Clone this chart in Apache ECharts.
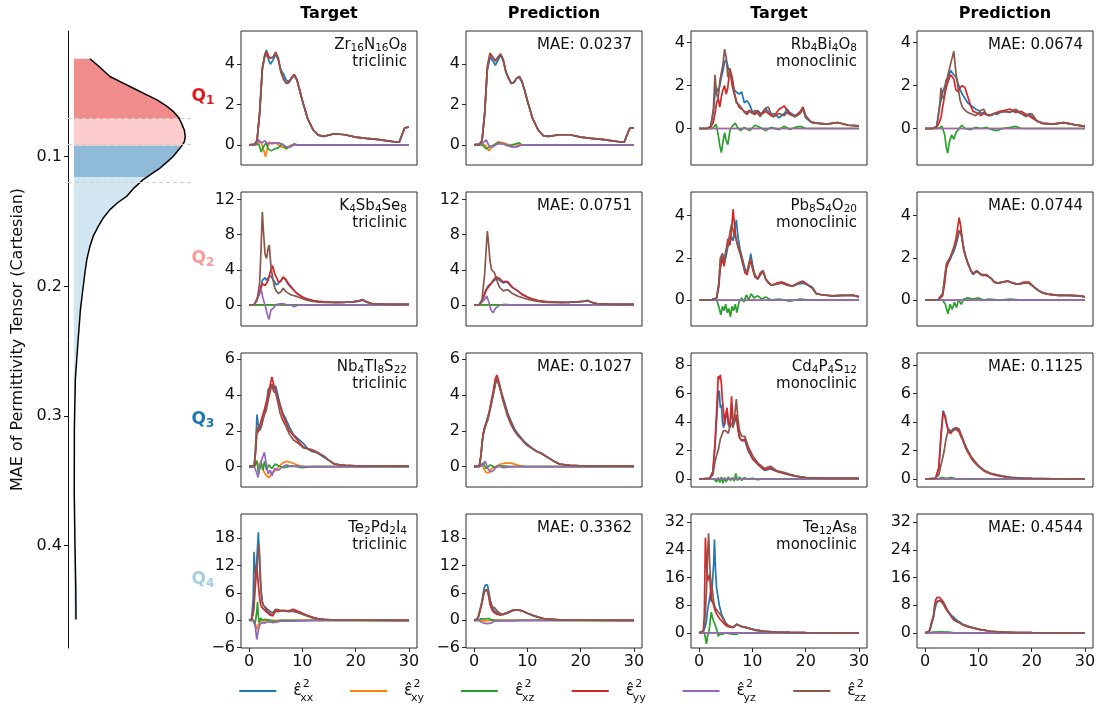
<!DOCTYPE html>
<html>
<head>
    <title>Permittivity spectra</title>
    <meta charset="utf-8"/>
    <script type="text/javascript" src="https://cdn.jsdelivr.net/npm/echarts@6.0.0/dist/echarts.min.js"></script>
    <style>
        html, body { margin: 0; padding: 0; background: #fff; }
        #chart { width: 1099px; height: 706px; }
    </style>
</head>
<body>
<div id="chart"></div>
<script type="text/javascript">
    // ---- tick labels ----
    const xTicks = [0, 10, 20, 30];
    const ticks024 = [0, 2, 4];
    const ticks0to12 = [0, 4, 8, 12];
    const ticks0246 = [0, 2, 4, 6];
    const ticks02468 = [0, 2, 4, 6, 8];
    const ticksN6to18 = [-6, 0, 6, 12, 18];
    const ticks0to32 = [0, 8, 16, 24, 32];
    const maeTicks = [0.1, 0.2, 0.3, 0.4];

    // ---- MAE distribution (density, MAE) ----
    const densMae = [0.0244, 0.031, 0.0381, 0.0425, 0.047, 0.0515, 0.056, 0.0605, 0.065, 0.0695, 0.074, 0.0795, 0.0843, 0.0885, 0.092, 0.096, 0.0998, 0.104, 0.1087, 0.113, 0.1177, 0.124, 0.1306, 0.1355, 0.1408, 0.147, 0.1537, 0.161, 0.169, 0.179, 0.1897, 0.203, 0.218, 0.246, 0.272, 0.31, 0.36, 0.40, 0.433, 0.457];
    const densVal = [13.6, 22, 30.5, 40, 50, 60, 70, 78, 84, 88.5, 91, 93.5, 94.3, 93.5, 91, 87.5, 84, 79, 73, 66, 58.7, 51, 44.6, 37, 30.5, 25, 20.6, 16.5, 13.6, 11, 9.3, 7.5, 5.5, 3.2, 1.2, 0.4, 0.3, 0.9, 1.6, 1.8];
    const qCuts = [0.0709, 0.0915, 0.1157];

    const zeroLine = [[0, 0], [30, 0]];

    // ---- Zr16N16O8 ----
    const gZr = [0, 1, 1.5, 2, 2.5, 3, 3.3, 3.7, 4, 4.5, 5, 5.5, 6, 6.5, 7, 7.5, 8, 8.5, 9, 9.5, 10, 11, 12, 13, 14, 16, 18, 20, 22, 24, 26, 27.5, 28.2, 28.7, 29.2, 30];
    const zrT_xx = [0, 0.02, 0.2, 1.6, 3.8, 4.5, 4.7, 4.2, 4.0, 4.2, 4.5, 4.2, 3.7, 3.5, 3.2, 3.15, 3.35, 3.45, 3.2, 2.7, 2.2, 1.3, 0.75, 0.48, 0.42, 0.55, 0.5, 0.38, 0.32, 0.27, 0.2, 0.14, 0.15, 0.5, 0.85, 0.88];
    const zrT_yy = [0, 0.02, 0.2, 1.6, 3.8, 4.5, 4.6, 4.4, 4.3, 4.35, 4.6, 4.3, 3.6, 3.25, 3.05, 3.1, 3.35, 3.5, 3.25, 2.75, 2.2, 1.3, 0.75, 0.48, 0.42, 0.55, 0.5, 0.38, 0.32, 0.27, 0.2, 0.14, 0.15, 0.5, 0.85, 0.88];
    const zrT_zz = [0, 0.02, 0.2, 1.55, 3.75, 4.5, 4.55, 4.3, 4.25, 4.35, 4.55, 4.25, 3.6, 3.25, 3.05, 3.1, 3.3, 3.45, 3.2, 2.7, 2.2, 1.3, 0.75, 0.48, 0.42, 0.55, 0.5, 0.38, 0.32, 0.27, 0.2, 0.14, 0.15, 0.5, 0.85, 0.88];
    const zrT_xy = [[0, 0], [1.2, 0], [1.8, 0.15], [2.3, 0.1], [2.8, -0.3], [3.1, -0.6], [3.4, -0.2], [3.8, 0.15], [4.3, 0.05], [5, 0.1], [6, -0.1], [7, -0.15], [8, 0], [30, 0]];
    const zrT_xz = [[0, 0], [1.2, 0], [1.8, 0.05], [2.3, -0.35], [2.7, -0.1], [3.2, 0.1], [3.6, -0.2], [4.2, -0.3], [4.8, -0.2], [5.5, -0.15], [6.2, 0.05], [7, -0.2], [7.6, -0.1], [8.5, 0.05], [9, 0], [30, 0]];
    const zrT_yz = [[0, 0], [1.2, 0], [1.8, 0.25], [2.4, 0.1], [3, 0.2], [3.5, 0.05], [4.5, 0.1], [5.5, 0.1], [6.5, 0], [7, -0.1], [7.8, -0.1], [8.5, 0], [30, 0]];
    const zrP_xx = [0, 0.02, 0.2, 1.5, 3.7, 4.35, 4.4, 4.1, 3.95, 4.2, 4.45, 4.15, 3.6, 3.3, 3.05, 3.1, 3.3, 3.35, 3.1, 2.7, 2.2, 1.3, 0.75, 0.45, 0.42, 0.5, 0.5, 0.38, 0.32, 0.27, 0.2, 0.14, 0.15, 0.5, 0.82, 0.85];
    const zrP_yy = [0, 0.02, 0.2, 1.6, 3.9, 4.55, 4.6, 4.3, 4.2, 4.35, 4.5, 4.2, 3.6, 3.3, 3.05, 3.1, 3.3, 3.4, 3.15, 2.7, 2.2, 1.3, 0.75, 0.45, 0.42, 0.5, 0.5, 0.38, 0.32, 0.27, 0.2, 0.14, 0.15, 0.5, 0.82, 0.85];
    const zrP_zz = [0, 0.02, 0.2, 1.55, 3.8, 4.5, 4.55, 4.25, 4.15, 4.35, 4.5, 4.2, 3.6, 3.3, 3.05, 3.1, 3.3, 3.4, 3.15, 2.7, 2.2, 1.3, 0.75, 0.45, 0.42, 0.5, 0.5, 0.38, 0.32, 0.27, 0.2, 0.14, 0.15, 0.5, 0.82, 0.85];
    const zrP_xy = [[0, 0], [1.5, 0.05], [2.2, -0.05], [2.8, -0.3], [3.5, -0.05], [4.5, 0.15], [5.5, 0.1], [6.5, 0], [7.5, -0.1], [8.5, 0], [30, 0]];
    const zrP_xz = [[0, 0], [1.5, 0], [2.3, -0.2], [2.9, -0.1], [3.5, -0.05], [4.5, 0.1], [5.5, 0.05], [6.5, -0.05], [8.5, 0.1], [9, 0], [30, 0]];
    const zrP_yz = [[0, 0], [1.5, 0.05], [2.3, 0.25], [2.8, -0.05], [3.5, -0.1], [4.5, 0.05], [5.5, 0.05], [7, -0.1], [8, -0.1], [9, 0], [30, 0]];

    // ---- Rb4Bi4O8 ----
    const gRb = [0, 1.5, 2.2, 2.7, 3.0, 3.3, 3.6, 3.9, 4.2, 4.5, 4.8, 5.1, 5.4, 5.8, 6.2, 6.6, 7.0, 7.5, 8, 8.5, 9, 9.5, 10, 10.5, 11, 11.5, 12, 12.5, 13, 13.5, 14, 15, 16, 16.5, 17, 18, 19, 19.5, 20, 21, 22, 24, 26, 28, 30];
    const rbT_xx = [0, 0, 0.1, 0.8, 1.6, 1.9, 1.7, 2.0, 2.4, 2.7, 3.1, 3.2, 2.9, 2.6, 2.3, 1.8, 1.7, 1.6, 1.7, 1.2, 1.3, 1.1, 0.8, 0.7, 0.85, 0.7, 0.75, 0.9, 0.8, 0.65, 0.7, 0.5, 0.7, 0.9, 0.75, 0.6, 0.75, 0.9, 0.5, 0.3, 0.25, 0.2, 0.28, 0.15, 0.12];
    const rbT_yy = [0, 0, 0.05, 0.3, 0.7, 1.2, 1.4, 1.0, 1.5, 1.8, 2.0, 1.6, 1.9, 2.8, 2.4, 1.7, 1.3, 1.0, 0.9, 0.8, 0.75, 0.85, 0.7, 0.65, 0.8, 0.65, 0.7, 0.8, 0.7, 0.6, 0.55, 0.9, 1.05, 0.85, 0.7, 0.55, 0.8, 1.0, 0.6, 0.3, 0.25, 0.2, 0.28, 0.15, 0.12];
    const rbT_zz = [0, 0, 0.1, 0.9, 2.5, 1.6, 1.4, 2.2, 2.6, 3.0, 3.7, 3.3, 2.4, 2.7, 2.0, 1.6, 1.2, 1.1, 0.95, 0.75, 0.65, 0.8, 0.7, 0.85, 0.7, 0.55, 0.8, 0.95, 1.0, 0.7, 0.55, 0.7, 0.6, 0.75, 0.65, 0.55, 0.7, 0.95, 0.55, 0.3, 0.25, 0.2, 0.28, 0.15, 0.12];
    const rbT_xz = [[0, 0], [2.5, 0], [3.2, 0.2], [3.6, -0.3], [3.9, -0.8], [4.2, -1.12], [4.5, -0.6], [4.8, -0.2], [5.1, -0.55], [5.4, -0.75], [5.8, -0.1], [6.2, 0.1], [6.8, 0.25], [7.2, 0.05], [7.8, -0.1], [8.5, 0.05], [9.5, -0.1], [10.5, 0.15], [11.5, 0.05], [12.5, -0.1], [13.5, 0.05], [15, -0.05], [16, 0.1], [17, -0.05], [18, 0.05], [19, 0.1], [20, 0], [30, 0]];
    const rbP_xx = [0, 0, 0.1, 1.0, 1.3, 1.7, 1.9, 2.1, 2.3, 2.5, 2.7, 2.65, 2.5, 2.4, 2.1, 1.8, 1.6, 1.4, 1.2, 1.1, 1.0, 0.9, 0.85, 0.7, 0.75, 0.65, 0.65, 0.6, 0.7, 0.65, 0.75, 0.8, 0.75, 0.85, 0.8, 0.7, 0.6, 0.7, 0.55, 0.35, 0.25, 0.2, 0.27, 0.18, 0.1];
    const rbP_yy = [0, 0, 0.05, 0.3, 0.5, 1.0, 1.4, 1.8, 2.1, 2.3, 2.5, 2.45, 2.3, 1.8, 1.7, 1.9, 2.0, 1.9, 1.5, 1.1, 0.8, 0.75, 0.7, 0.6, 0.7, 0.65, 0.6, 0.65, 0.7, 0.75, 0.8, 0.85, 0.9, 0.8, 0.75, 0.8, 0.65, 0.6, 0.5, 0.35, 0.25, 0.2, 0.27, 0.18, 0.1];
    const rbP_zz = [0, 0, 0.1, 0.9, 1.9, 1.4, 1.5, 2.2, 2.4, 2.7, 3.0, 3.3, 3.6, 2.6, 1.9, 1.3, 1.0, 0.85, 0.75, 0.7, 0.65, 0.6, 0.7, 0.85, 0.9, 0.65, 0.6, 0.65, 0.7, 0.7, 0.75, 0.8, 0.75, 0.85, 0.9, 0.7, 0.55, 0.65, 0.7, 0.35, 0.22, 0.2, 0.27, 0.18, 0.1];
    const rbP_xz = [[0, 0], [2.5, 0], [3.2, 0.1], [3.7, -0.3], [4.0, -0.9], [4.25, -1.15], [4.6, -0.6], [5.0, -0.3], [5.4, -0.5], [5.8, -0.2], [6.4, 0], [6.9, 0.15], [7.5, 0], [8.5, -0.05], [9.5, 0.05], [10.5, 0], [11.5, 0.05], [12.5, -0.05], [13.5, -0.1], [14.5, 0], [16, 0.05], [17, 0.1], [18, 0], [30, 0]];

    // ---- K4Sb4Se8 ----
    const gK = [0, 1, 1.5, 2, 2.3, 2.5, 2.7, 3.0, 3.3, 3.6, 3.8, 4.1, 4.4, 4.8, 5.1, 5.5, 6, 6.4, 6.8, 7.2, 7.7, 8.2, 9, 10, 11, 12, 13, 14, 16, 18, 19.5, 20.5, 21.3, 22, 23, 25, 27, 30];
    const kT_xx = [0, 0.05, 0.6, 1.5, 2.2, 2.8, 3.0, 3.1, 2.8, 3.1, 3.2, 3.3, 3.0, 2.6, 2.3, 2.4, 2.8, 3.1, 2.9, 2.5, 2.1, 1.8, 1.3, 0.9, 0.65, 0.5, 0.4, 0.35, 0.3, 0.3, 0.35, 0.4, 0.55, 0.35, 0.15, 0.08, 0.05, 0.05];
    const kT_yy = [0, 0.05, 0.7, 1.4, 2.0, 2.4, 2.3, 2.2, 2.0, 2.8, 3.3, 4.0, 4.5, 3.6, 3.2, 2.6, 2.7, 3.2, 3.0, 2.6, 2.2, 1.8, 1.3, 0.9, 0.65, 0.5, 0.4, 0.35, 0.3, 0.3, 0.35, 0.45, 0.6, 0.35, 0.15, 0.08, 0.05, 0.05];
    const kT_zz = [0, 0.05, 0.5, 2.5, 7.0, 10.6, 8.5, 5.8, 5.3, 6.5, 6.8, 4.5, 3.2, 2.0, 1.6, 1.3, 1.5, 1.9, 1.6, 1.4, 1.2, 1.1, 0.95, 0.7, 0.5, 0.4, 0.3, 0.28, 0.25, 0.3, 0.35, 0.45, 0.6, 0.35, 0.15, 0.08, 0.05, 0.05];
    const kT_yz = [[0, 0], [1, 0], [1.8, 1.0], [2.3, 1.7], [2.6, 0.8], [3.0, 0], [3.4, -1.0], [3.75, -1.65], [4.1, -0.6], [4.5, -0.4], [5.0, 0], [5.5, 0.1], [6.3, 0.15], [7, 0.05], [7.8, 0], [8.5, -0.2], [9.2, 0], [30, 0]];
    const kP_xx = [0, 0.05, 0.5, 1.3, 1.8, 2.0, 2.2, 2.3, 2.5, 2.7, 2.8, 3.0, 3.0, 2.8, 2.6, 2.5, 2.6, 2.5, 2.2, 2.0, 1.8, 1.6, 1.2, 0.9, 0.65, 0.5, 0.4, 0.35, 0.3, 0.3, 0.35, 0.42, 0.5, 0.3, 0.15, 0.08, 0.05, 0.05];
    const kP_yy = [0, 0.05, 0.5, 1.2, 1.7, 1.9, 2.0, 2.2, 2.5, 2.8, 3.0, 3.2, 3.3, 3.0, 2.8, 2.6, 2.7, 2.6, 2.3, 2.0, 1.8, 1.6, 1.2, 0.9, 0.65, 0.5, 0.4, 0.35, 0.3, 0.3, 0.35, 0.42, 0.5, 0.3, 0.15, 0.08, 0.05, 0.05];
    const kP_zz = [0, 0.05, 0.6, 3.5, 6.5, 8.4, 7.2, 5.0, 4.0, 3.8, 3.7, 3.2, 2.6, 2.0, 1.8, 1.6, 1.7, 1.7, 1.5, 1.3, 1.15, 1.0, 0.85, 0.65, 0.5, 0.4, 0.3, 0.28, 0.25, 0.3, 0.35, 0.4, 0.5, 0.3, 0.15, 0.08, 0.05, 0.05];
    const kP_yz = [[0, 0], [1, 0], [1.8, 0.5], [2.4, 1.0], [2.8, 0.3], [3.2, -0.6], [3.6, -0.9], [4.0, -0.4], [4.6, -0.1], [5.5, 0.05], [7, 0], [30, 0]];

    // ---- Pb8S4O20 ----
    const gPb = [0, 2.5, 3.3, 3.7, 4.0, 4.4, 4.7, 5.0, 5.4, 5.8, 6.1, 6.4, 6.7, 7.0, 7.3, 7.7, 8.1, 8.6, 9.0, 9.4, 9.7, 10.1, 10.5, 11, 11.5, 12, 12.5, 13, 13.6, 14.5, 15.5, 16.5, 17.5, 18.5, 19.5, 20.5, 21.3, 22, 23, 25, 27, 29, 30];
    const pbT_xx = [0, 0.02, 0.1, 0.8, 1.8, 2.2, 1.7, 2.0, 2.5, 2.8, 3.0, 2.8, 3.3, 3.8, 3.0, 2.4, 2.0, 1.5, 1.3, 1.7, 2.2, 1.6, 1.1, 1.0, 1.2, 1.4, 1.0, 0.85, 0.7, 0.75, 0.85, 0.75, 0.65, 0.75, 0.8, 0.7, 0.6, 0.3, 0.25, 0.2, 0.22, 0.22, 0.15];
    const pbT_yy = [0, 0.02, 0.1, 0.6, 1.5, 2.0, 1.6, 2.2, 2.9, 2.6, 3.3, 4.3, 3.4, 2.8, 2.6, 2.3, 1.9, 1.3, 1.2, 1.6, 1.9, 1.4, 1.1, 1.0, 1.2, 1.35, 1.0, 0.85, 0.7, 0.8, 0.85, 0.75, 0.65, 0.8, 0.9, 0.7, 0.55, 0.3, 0.25, 0.2, 0.22, 0.22, 0.15];
    const pbT_zz = [0, 0.02, 0.1, 0.7, 2.0, 2.2, 1.8, 2.3, 2.6, 3.2, 3.6, 3.3, 3.0, 2.9, 2.5, 2.2, 1.8, 1.4, 1.3, 1.8, 2.0, 1.5, 1.2, 1.0, 1.3, 1.4, 1.0, 0.8, 0.7, 0.75, 0.8, 0.7, 0.65, 0.8, 0.85, 0.7, 0.55, 0.3, 0.25, 0.2, 0.22, 0.22, 0.15];
    const pbT_xz = [[0, 0], [3.3, 0], [3.7, -0.3], [4.1, -0.7], [4.4, -0.3], [4.7, -0.5], [5.0, -0.2], [5.3, -0.6], [5.6, -0.4], [5.9, -0.8], [6.2, -0.3], [6.5, -0.5], [6.8, -0.2], [7.1, -0.6], [7.5, -0.1], [8.0, 0.1], [8.4, -0.1], [8.9, 0.25], [9.3, 0], [9.8, 0.3], [10.3, 0.1], [11, 0.2], [11.8, 0.05], [12.5, 0.15], [13.5, 0], [15, 0.05], [17, -0.05], [19, 0.05], [20.5, 0], [30, 0]];
    const pbP_xx = [0, 0.02, 0.3, 1.0, 1.6, 1.8, 1.9, 2.1, 2.3, 2.6, 2.9, 3.2, 3.3, 2.9, 2.4, 2.0, 1.7, 1.4, 1.2, 1.3, 1.4, 1.3, 1.2, 1.2, 1.2, 1.1, 1.0, 0.85, 0.8, 0.85, 0.9, 0.8, 0.75, 0.8, 0.8, 0.6, 0.45, 0.35, 0.28, 0.22, 0.22, 0.2, 0.15];
    const pbP_yy = [0, 0.02, 0.2, 0.8, 1.5, 1.8, 2.0, 2.2, 2.5, 2.9, 3.4, 3.9, 3.5, 2.8, 2.3, 2.0, 1.7, 1.4, 1.25, 1.35, 1.4, 1.3, 1.2, 1.15, 1.2, 1.1, 1.0, 0.85, 0.8, 0.85, 0.9, 0.8, 0.75, 0.85, 0.85, 0.6, 0.45, 0.35, 0.28, 0.22, 0.22, 0.2, 0.15];
    const pbP_zz = [0, 0.02, 0.3, 1.1, 1.7, 1.9, 2.0, 2.2, 2.4, 2.7, 3.0, 3.3, 3.2, 2.8, 2.4, 2.0, 1.7, 1.4, 1.25, 1.3, 1.4, 1.3, 1.2, 1.2, 1.15, 1.1, 1.0, 0.85, 0.8, 0.85, 0.9, 0.8, 0.75, 0.8, 0.8, 0.6, 0.45, 0.35, 0.28, 0.22, 0.22, 0.2, 0.15];
    const pbP_xz = [[0, 0], [3.3, 0], [3.8, -0.2], [4.3, -0.65], [4.7, -0.2], [5.1, -0.45], [5.5, -0.1], [5.9, -0.35], [6.3, 0], [6.8, -0.2], [7.3, 0.05], [8, 0.1], [9, 0.05], [10, 0.1], [11, 0], [12, 0.05], [14, 0], [16, 0.05], [18, 0], [30, 0]];

    // ---- Nb4Tl8S22 ----
    const gNb = [0, 1, 1.3, 1.5, 1.7, 2.0, 2.3, 2.6, 2.9, 3.2, 3.6, 4.0, 4.3, 4.6, 5.0, 5.4, 5.8, 6.3, 7.0, 7.6, 8.3, 9.0, 9.6, 10.2, 11, 11.8, 12.6, 13.4, 14.2, 15, 16, 17, 18, 20, 24, 30];
    const nbT_xx = [0, 0.05, 1.5, 2.9, 2.4, 2.0, 2.3, 2.6, 3.0, 3.3, 4.3, 4.4, 4.6, 4.3, 4.5, 4.0, 3.5, 3.0, 2.6, 2.2, 1.8, 1.6, 1.45, 1.3, 1.0, 0.85, 0.8, 0.65, 0.5, 0.35, 0.15, 0.1, 0.08, 0.05, 0.04, 0.03];
    const nbT_yy = [0, 0.05, 1.0, 2.1, 1.9, 1.8, 2.6, 2.5, 3.2, 3.3, 4.0, 4.6, 5.0, 4.6, 4.2, 3.8, 3.4, 2.9, 2.4, 2.0, 1.75, 1.5, 1.3, 1.1, 1.0, 0.9, 0.8, 0.7, 0.55, 0.35, 0.15, 0.1, 0.08, 0.05, 0.04, 0.03];
    const nbT_zz = [0, 0.05, 1.2, 2.2, 2.0, 1.9, 2.2, 2.6, 2.9, 3.1, 3.7, 4.2, 4.6, 4.2, 4.1, 3.6, 3.0, 2.6, 2.2, 1.8, 1.5, 1.35, 1.2, 1.05, 1.0, 0.95, 0.85, 0.7, 0.55, 0.35, 0.15, 0.1, 0.08, 0.05, 0.04, 0.03];
    const nbT_xy = [[0, 0], [1, 0], [1.5, 0.35], [1.9, -0.2], [2.3, 0.2], [2.8, -0.3], [3.3, -0.5], [3.8, -0.6], [4.3, -0.35], [5, -0.2], [5.6, 0], [6.3, 0.2], [7, 0.3], [7.8, 0.25], [8.6, 0.15], [9.5, 0.05], [10.5, 0], [30, 0]];
    const nbT_xz = [[0, 0], [1, 0], [1.5, 0.3], [1.8, -0.4], [2.2, 0.3], [2.6, -0.2], [2.9, 0.3], [3.3, -0.2], [3.7, 0.1], [4.3, -0.1], [4.9, 0.15], [5.5, 0.05], [6.5, -0.05], [8, 0.05], [10, -0.05], [12, 0], [30, 0]];
    const nbT_yz = [[0, 0], [1, 0], [1.4, -0.3], [1.7, -0.6], [2.1, 0.1], [2.5, 0.5], [2.9, 0.8], [3.2, 0.2], [3.6, -0.4], [4.0, -0.2], [4.3, -0.5], [4.8, -0.1], [5.5, -0.2], [6.3, 0], [7, 0.1], [8, 0], [9, 0.05], [10, 0], [30, 0]];
    const nbP_xx = [0, 0.05, 0.6, 1.3, 1.8, 2.2, 2.5, 2.8, 3.1, 3.5, 4.0, 4.6, 4.9, 4.7, 4.3, 3.9, 3.5, 3.0, 2.5, 2.1, 1.8, 1.55, 1.35, 1.2, 1.0, 0.85, 0.75, 0.6, 0.45, 0.3, 0.15, 0.1, 0.08, 0.05, 0.04, 0.03];
    const nbP_yy = [0, 0.05, 0.6, 1.3, 1.8, 2.2, 2.4, 2.7, 3.1, 3.6, 4.2, 4.9, 5.1, 4.8, 4.3, 3.8, 3.4, 2.9, 2.4, 2.0, 1.75, 1.5, 1.3, 1.15, 1.0, 0.85, 0.75, 0.6, 0.45, 0.3, 0.15, 0.1, 0.08, 0.05, 0.04, 0.03];
    const nbP_zz = [0, 0.05, 0.6, 1.2, 1.7, 2.1, 2.4, 2.6, 3.0, 3.4, 4.0, 4.6, 4.9, 4.6, 4.2, 3.7, 3.3, 2.8, 2.3, 2.0, 1.7, 1.5, 1.3, 1.15, 1.0, 0.85, 0.75, 0.6, 0.45, 0.3, 0.15, 0.1, 0.08, 0.05, 0.04, 0.03];
    const nbP_xy = [[0, 0], [1, 0], [1.6, 0.05], [2.2, -0.3], [2.7, -0.35], [3.3, -0.1], [4, 0], [5, 0.15], [6, 0.2], [7, 0.2], [8, 0.1], [9.5, 0], [30, 0]];
    const nbP_xz = [[0, 0], [1, 0], [1.7, 0.2], [2.3, -0.1], [3, 0.1], [4, -0.05], [5, 0.05], [7, 0], [30, 0]];
    const nbP_yz = [[0, 0], [1, 0], [1.6, 0.1], [2.1, 0.3], [2.6, -0.1], [3.1, -0.3], [3.7, -0.2], [4.3, 0.05], [5.5, -0.05], [7, 0], [30, 0]];

    // ---- Cd4P4S12 ----
    const gCd = [0, 2.0, 2.6, 3.0, 3.4, 3.6, 3.8, 4.0, 4.2, 4.4, 4.6, 4.8, 5.0, 5.25, 5.5, 5.8, 6.1, 6.4, 6.7, 7.0, 7.3, 7.6, 8.0, 8.6, 9.2, 10.1, 11.1, 12.3, 13.4, 14.5, 16, 18, 20, 24, 30];
    const cdT_xx = [0, 0.05, 0.5, 2.3, 4.8, 6.0, 6.2, 5.0, 5.2, 4.0, 3.6, 3.7, 4.3, 4.8, 3.8, 3.6, 5.2, 3.8, 4.0, 4.5, 3.5, 2.9, 2.7, 2.7, 2.0, 1.4, 1.0, 0.6, 0.7, 0.55, 0.4, 0.2, 0.1, 0.05, 0.04];
    const cdT_yy = [0, 0.05, 0.5, 2.5, 5.5, 7.2, 7.0, 7.3, 6.7, 5.5, 4.8, 3.8, 4.5, 5.0, 4.0, 3.6, 5.8, 3.8, 4.2, 4.5, 3.5, 2.9, 2.7, 2.8, 2.1, 1.4, 1.0, 0.65, 0.8, 0.55, 0.4, 0.2, 0.1, 0.05, 0.04];
    const cdT_zz = [0, 0.05, 0.3, 1.2, 1.8, 2.0, 2.4, 2.8, 3.0, 3.2, 3.4, 3.5, 3.4, 3.3, 3.2, 3.7, 3.9, 3.6, 4.5, 5.6, 4.2, 3.4, 3.0, 3.0, 2.3, 1.6, 1.1, 0.75, 0.9, 0.6, 0.45, 0.22, 0.1, 0.05, 0.04];
    const cdT_xz = [[0, 0], [2.8, 0], [3.3, -0.2], [3.6, 0.1], [3.9, -0.25], [4.2, 0.15], [4.5, -0.3], [4.8, 0.1], [5.1, -0.2], [5.5, 0.15], [5.9, -0.1], [6.3, 0.1], [6.6, -0.15], [6.9, 0.4], [7.2, -0.1], [7.6, 0.15], [8, -0.1], [8.5, 0.1], [9, 0], [10, 0.05], [11, -0.05], [12, 0], [30, 0]];
    const cdP_xx = [0, 0.05, 0.8, 3.0, 4.8, 4.7, 4.4, 4.0, 3.7, 3.5, 3.4, 3.3, 3.4, 3.5, 3.4, 3.6, 3.7, 3.4, 3.1, 2.9, 2.6, 2.3, 2.0, 1.6, 1.3, 0.9, 0.6, 0.4, 0.3, 0.2, 0.12, 0.06, 0.04, 0.02, 0.01];
    const cdP_yy = [0, 0.05, 0.8, 3.1, 4.7, 4.6, 4.3, 3.9, 3.6, 3.3, 3.2, 3.2, 3.3, 3.4, 3.3, 3.5, 3.6, 3.3, 3.0, 2.8, 2.5, 2.2, 1.9, 1.5, 1.2, 0.85, 0.55, 0.35, 0.25, 0.18, 0.1, 0.05, 0.03, 0.02, 0.01];
    const cdP_zz = [0, 0.05, 0.3, 1.0, 1.6, 2.0, 2.5, 2.9, 3.2, 3.4, 3.5, 3.4, 3.3, 3.4, 3.5, 3.6, 3.7, 3.5, 3.2, 2.9, 2.6, 2.3, 2.0, 1.6, 1.3, 0.9, 0.6, 0.4, 0.3, 0.2, 0.12, 0.06, 0.04, 0.02, 0.01];
    const cdP_xz = [[0, 0], [2.5, 0], [3, 0.1], [4, 0.05], [5, 0.1], [6, 0], [30, 0]];

    // ---- Te2Pd2I4 ----
    const gTP = [0, 0.5, 0.8, 0.95, 1.1, 1.3, 1.45, 1.6, 1.75, 1.9, 2.1, 2.3, 2.5, 2.75, 3.0, 3.4, 3.9, 4.4, 5.0, 5.5, 6.4, 7.4, 8.3, 9.2, 10.1, 11, 12, 13, 14, 16, 20, 30];
    const tpT_xx = [0, 0.3, 5, 15, 11, 10, 13, 16, 19.3, 15, 9, 6, 4, 3.2, 2.8, 2.0, 1.5, 1.0, 2.2, 2.0, 2.1, 1.9, 2.0, 1.8, 1.4, 1.0, 0.6, 0.35, 0.2, 0.08, 0.02, 0];
    const tpT_yy = [0, 0.3, 2, 4, 8, 11.5, 12, 10, 8, 6, 4, 3, 2.6, 2.4, 2.2, 1.7, 1.2, 1.0, 2.0, 1.9, 2.2, 2.1, 2.4, 2.0, 1.5, 1.05, 0.65, 0.35, 0.2, 0.08, 0.02, 0];
    const tpT_zz = [0, 0.3, 1.5, 3, 6, 9, 11, 13, 16, 16.6, 11, 6, 4, 3.2, 2.8, 2.5, 2.0, 1.6, 2.4, 2.3, 2.1, 2.0, 2.0, 1.7, 1.3, 0.9, 0.55, 0.3, 0.18, 0.08, 0.02, 0];
    const tpT_xy = [[0, 0], [0.9, 0], [1.2, -0.8], [1.45, -2.0], [1.7, -1.2], [2, -0.3], [2.5, 0], [3, -0.2], [4, 0], [30, 0]];
    const tpT_xz = [[0, 0], [0.8, 0], [1.1, -1.0], [1.3, 0.5], [1.5, 2.5], [1.6, 4.0], [1.75, 1.0], [1.9, -0.5], [2.2, 0.5], [2.6, 0], [3, 0.2], [4, 0], [5, -0.3], [6, 0], [30, 0]];
    const tpT_yz = [[0, 0], [0.9, 0], [1.2, -1.5], [1.45, -4.2], [1.7, -2.5], [2.0, -1.0], [2.4, -0.5], [3, -0.6], [3.5, -0.3], [4.5, -0.5], [6, -0.2], [8, -0.2], [10, -0.1], [12, 0], [30, 0]];
    const tpP_xx = [0, 0.2, 0.8, 1.5, 2.2, 3.2, 4.0, 5.0, 6.0, 7.0, 7.7, 8.0, 7.8, 6.5, 4.5, 2.8, 2.0, 1.5, 1.2, 1.3, 1.6, 2.2, 2.3, 2.0, 1.5, 1.1, 0.7, 0.4, 0.25, 0.1, 0.02, 0];
    const tpP_yy = [0, 0.2, 0.7, 1.3, 2.0, 2.8, 3.5, 4.4, 5.3, 6.0, 6.5, 6.7, 6.5, 5.2, 3.5, 2.2, 1.6, 1.3, 1.2, 1.4, 1.8, 2.3, 2.3, 2.0, 1.5, 1.1, 0.7, 0.4, 0.25, 0.1, 0.02, 0];
    const tpP_zz = [0, 0.2, 0.7, 1.4, 2.1, 3.0, 3.7, 4.6, 5.5, 6.2, 6.7, 6.9, 6.7, 5.8, 4.5, 3.0, 2.7, 2.0, 1.4, 1.3, 1.7, 2.2, 2.3, 2.0, 1.5, 1.1, 0.7, 0.4, 0.25, 0.1, 0.02, 0];
    const tpP_xy = [[0, 0], [1, 0], [2, -0.1], [3, 0], [30, 0]];
    const tpP_xz = [[0, 0], [0.8, 0], [1.2, 0.3], [2, 0.3], [2.8, 0.4], [3.3, 0.1], [4, 0], [30, 0]];
    const tpP_yz = [[0, 0], [0.8, 0], [1.3, -0.3], [1.8, -0.6], [2.5, -0.7], [3.2, -0.6], [3.8, -0.2], [5, -0.1], [7, -0.1], [9, 0], [30, 0]];

    // ---- Te12As8 ----
    const gTA = [0, 0.8, 1.0, 1.2, 1.4, 1.6, 1.8, 2.0, 2.15, 2.3, 2.5, 2.75, 2.9, 3.1, 3.3, 3.6, 3.8, 4.2, 4.5, 5.0, 5.4, 6.0, 6.4, 7.1, 7.9, 8.9, 10.4, 12.3, 14.5, 17, 20, 30];
    const taT_xx = [0, 0.3, 1, 2, 3.5, 6.5, 7, 10, 12, 9, 14, 20, 27, 18, 13, 10, 8, 5.5, 4.5, 2.8, 2.2, 1.8, 1.7, 2.4, 1.9, 1.5, 0.9, 0.45, 0.2, 0.1, 0.05, 0];
    const taT_yy = [0, 0.5, 5, 27.5, 20, 15, 16, 17, 13, 10, 9, 8, 7, 6.2, 5.5, 5, 4.2, 3.5, 3.0, 2.2, 1.8, 1.6, 1.5, 2.5, 1.8, 1.5, 0.8, 0.4, 0.2, 0.1, 0.05, 0];
    const taT_zz = [0, 0.5, 2, 6, 12, 22, 28.8, 20, 16, 14, 12.5, 9, 8, 7, 6.5, 6, 5.5, 5.0, 4.0, 2.8, 2.2, 1.8, 1.6, 2.5, 1.9, 1.5, 0.8, 0.4, 0.2, 0.1, 0.05, 0];
    const taT_xz = [[0, 0], [1.0, 0], [1.2, -1.5], [1.4, -3.2], [1.6, -1.0], [1.8, 0], [2.0, 2], [2.3, 6.0], [2.6, 4], [2.8, 3.5], [3.1, 2], [3.4, 0.5], [3.6, -1.0], [3.9, -0.3], [4.3, -0.5], [5, 0], [6, -0.3], [7, -0.5], [7.5, 0], [30, 0]];
    const taP_xx = [0, 0.4, 1.2, 2.5, 3.5, 4.5, 6.5, 7.8, 8.5, 9.0, 9.2, 9.3, 9.4, 9.3, 8.8, 8.0, 7.5, 6.5, 6.2, 5.0, 4.5, 3.6, 3.2, 2.5, 2.0, 1.5, 0.9, 0.45, 0.2, 0.08, 0.03, 0];
    const taP_yy = [0, 0.5, 1.5, 3, 4, 5, 8, 9.5, 10, 10.3, 10.5, 10.2, 10, 9.8, 9.2, 8.5, 8, 6.5, 6, 4.5, 3.7, 3.2, 3.0, 2.3, 1.8, 1.4, 0.9, 0.45, 0.2, 0.08, 0.03, 0];
    const taP_zz = [0, 0.4, 1.2, 2.5, 3.6, 4.8, 7, 8.3, 8.8, 9.2, 9.4, 9.3, 9.2, 9.0, 8.6, 7.8, 7.2, 6.2, 5.8, 4.7, 4.0, 3.3, 3.0, 2.4, 1.9, 1.5, 0.9, 0.45, 0.2, 0.08, 0.03, 0];
    const taP_xz = [[0, 0], [1, 0], [1.5, 0.2], [3, 0.25], [4.5, 0.2], [5.5, 0], [30, 0]];

    function zip(grid, vals) {
        return grid.map((x, i) => [x, vals[i]]);
    }

    const FONT = '"DejaVu Sans", sans-serif';
    const COLORS = ['#1f77b4', '#ff7f0e', '#2ca02c', '#d62728', '#9467bd', '#8c564b'];
    const compNames = ['xx', 'xy', 'xz', 'yy', 'yz', 'zz'];
    const qColors = ['#e31a1c', '#fb9a99', '#1f78b4', '#a6cee3'];
    const qFills = ['rgba(227,26,28,0.5)', 'rgba(251,154,153,0.5)', 'rgba(31,120,180,0.5)', 'rgba(166,206,227,0.5)'];

    const colLeft = [241, 466, 691, 917];
    const rowTop = [31, 192, 353, 514];
    const panelW = 176, panelH = 134;
    const titles = ['Target', 'Prediction', 'Target', 'Prediction'];

    const panels = [
        {note: 'Zr{s|16}N{s|16}O{s|8}\ntriclinic', ylim: [-1.0, 5.65], ticks: ticks024,
            lines: [zip(gZr, zrT_xx), zrT_xy, zrT_xz, zip(gZr, zrT_yy), zrT_yz, zip(gZr, zrT_zz)]},
        {note: 'MAE: 0.0237', ylim: [-1.0, 5.65], ticks: ticks024,
            lines: [zip(gZr, zrP_xx), zrP_xy, zrP_xz, zip(gZr, zrP_yy), zrP_yz, zip(gZr, zrP_zz)]},
        {note: 'Rb{s|4}Bi{s|4}O{s|8}\nmonoclinic', ylim: [-1.7, 4.54], ticks: ticks024,
            lines: [zip(gRb, rbT_xx), zeroLine, rbT_xz, zip(gRb, rbT_yy), zeroLine, zip(gRb, rbT_zz)]},
        {note: 'MAE: 0.0674', ylim: [-1.7, 4.54], ticks: ticks024,
            lines: [zip(gRb, rbP_xx), zeroLine, rbP_xz, zip(gRb, rbP_yy), zeroLine, zip(gRb, rbP_zz)]},

        {note: 'K{s|4}Sb{s|4}Se{s|8}\ntriclinic', ylim: [-2.4, 12.85], ticks: ticks0to12,
            lines: [zip(gK, kT_xx), zeroLine, zeroLine, zip(gK, kT_yy), kT_yz, zip(gK, kT_zz)]},
        {note: 'MAE: 0.0751', ylim: [-2.4, 12.85], ticks: ticks0to12,
            lines: [zip(gK, kP_xx), zeroLine, zeroLine, zip(gK, kP_yy), kP_yz, zip(gK, kP_zz)]},
        {note: 'Pb{s|8}S{s|4}O{s|20}\nmonoclinic', ylim: [-1.23, 5.12], ticks: ticks024,
            lines: [zip(gPb, pbT_xx), zeroLine, pbT_xz, zip(gPb, pbT_yy), zeroLine, zip(gPb, pbT_zz)]},
        {note: 'MAE: 0.0744', ylim: [-1.23, 5.12], ticks: ticks024,
            lines: [zip(gPb, pbP_xx), zeroLine, pbP_xz, zip(gPb, pbP_yy), zeroLine, zip(gPb, pbP_zz)]},

        {note: 'Nb{s|4}Tl{s|8}S{s|22}\ntriclinic', ylim: [-1.13, 6.33], ticks: ticks0246,
            lines: [zip(gNb, nbT_xx), nbT_xy, nbT_xz, zip(gNb, nbT_yy), nbT_yz, zip(gNb, nbT_zz)]},
        {note: 'MAE: 0.1027', ylim: [-1.13, 6.33], ticks: ticks0246,
            lines: [zip(gNb, nbP_xx), nbP_xy, nbP_xz, zip(gNb, nbP_yy), nbP_yz, zip(gNb, nbP_zz)]},
        {note: 'Cd{s|4}P{s|4}S{s|12}\nmonoclinic', ylim: [-0.56, 8.84], ticks: ticks02468,
            lines: [zip(gCd, cdT_xx), zeroLine, cdT_xz, zip(gCd, cdT_yy), zeroLine, zip(gCd, cdT_zz)]},
        {note: 'MAE: 0.1125', ylim: [-0.56, 8.84], ticks: ticks02468,
            lines: [zip(gCd, cdP_xx), zeroLine, cdP_xz, zip(gCd, cdP_yy), zeroLine, zip(gCd, cdP_zz)]},

        {note: 'Te{s|2}Pd{s|2}I{s|4}\ntriclinic', ylim: [-6.06, 23.3], ticks: ticksN6to18,
            lines: [zip(gTP, tpT_xx), tpT_xy, tpT_xz, zip(gTP, tpT_yy), tpT_yz, zip(gTP, tpT_zz)]},
        {note: 'MAE: 0.3362', ylim: [-6.06, 23.3], ticks: ticksN6to18,
            lines: [zip(gTP, tpP_xx), tpP_xy, tpP_xz, zip(gTP, tpP_yy), tpP_yz, zip(gTP, tpP_zz)]},
        {note: 'Te{s|12}As{s|8}\nmonoclinic', ylim: [-4.4, 34.4], ticks: ticks0to32,
            lines: [zip(gTA, taT_xx), zeroLine, taT_xz, zip(gTA, taT_yy), zeroLine, zip(gTA, taT_zz)]},
        {note: 'MAE: 0.4544', ylim: [-4.4, 34.4], ticks: ticks0to32,
            lines: [zip(gTA, taP_xx), zeroLine, taP_xz, zip(gTA, taP_yy), zeroLine, zip(gTA, taP_zz)]}
    ];

    const fmtTick = v => (v < 0 ? '\u2212' + Math.abs(v) : String(v));

    const grids = [], xAxes = [], yAxes = [], series = [], graphics = [];

    panels.forEach((p, k) => {
        const r = Math.floor(k / 4), c = k % 4;
        const bottomRow = r === 3;
        grids.push({
            left: colLeft[c], top: rowTop[r], width: panelW, height: panelH,
            show: true, borderColor: '#2b2b2b', borderWidth: 1, outerBoundsMode: 'none'
        });
        xAxes.push({
            gridIndex: k, type: 'value', min: -1.5, max: 31.5,
            axisLine: {show: false, onZero: false}, splitLine: {show: false},
            axisTick: {show: bottomRow, customValues: xTicks, length: 4, lineStyle: {color: '#2b2b2b'}},
            axisLabel: {show: bottomRow, customValues: xTicks, fontSize: 16, color: '#111', margin: 6, fontFamily: FONT}
        });
        yAxes.push({
            gridIndex: k, type: 'value', min: p.ylim[0], max: p.ylim[1],
            axisLine: {show: false, onZero: false}, splitLine: {show: false},
            axisTick: {show: true, customValues: p.ticks, length: 4, lineStyle: {color: '#2b2b2b'}},
            axisLabel: {customValues: p.ticks, formatter: fmtTick, fontSize: 16, color: '#111', margin: 6, fontFamily: FONT}
        });
        p.lines.forEach((d, j) => {
            series.push({
                type: 'line', name: compNames[j], xAxisIndex: k, yAxisIndex: k, data: d,
                symbol: 'none', silent: true, z: 2 + j,
                lineStyle: {width: 1.7, color: COLORS[j]}, itemStyle: {color: COLORS[j]}
            });
        });

        // annotation in the upper right corner
        graphics.push({
            type: 'text', x: colLeft[c] + panelW - 10, y: rowTop[r] + 6, z: 50,
            style: {
                text: p.note, font: '15px ' + FONT, fill: '#111', lineHeight: 17,
                align: 'right', textAlign: 'right', verticalAlign: 'top', textVerticalAlign: 'top',
                rich: {s: {font: '10.5px ' + FONT, fill: '#111', lineHeight: 10.5, padding: [6, 0, 0, 0], verticalAlign: 'middle'}}
            }
        });
    });

    // column titles
    titles.forEach((t, c) => {
        graphics.push({
            type: 'text', x: colLeft[c] + panelW / 2, y: 14, z: 50,
            style: {text: t, font: 'bold 16px ' + FONT, fill: '#000',
                align: 'center', textAlign: 'center', verticalAlign: 'middle', textVerticalAlign: 'middle'}
        });
    });

    // quartile labels
    const qY = [97, 259, 420, 580];
    qColors.forEach((col, i) => {
        graphics.push({
            type: 'text', x: 203, y: qY[i], z: 50,
            style: {
                text: 'Q{s|' + (i + 1) + '}', font: 'bold 17px ' + FONT, fill: col, lineHeight: 20,
                align: 'center', textAlign: 'center', verticalAlign: 'middle', textVerticalAlign: 'middle',
                rich: {s: {font: 'bold 12px ' + FONT, fill: col, lineHeight: 12, padding: [7, 0, 0, 0], verticalAlign: 'middle'}}
            }
        });
    });

    // legend
    compNames.forEach((nm, i) => {
        const lx = 239.3 + 110.8 * i;
        graphics.push({type: 'line', z: 50, shape: {x1: lx, y1: 691, x2: lx + 37, y2: 691},
            style: {stroke: COLORS[i], lineWidth: 2}});
        graphics.push({type: 'text', x: lx + 54, y: 691, z: 50,
            style: {text: '\u03b5\u0302', font: '16px ' + FONT, fill: '#111',
                align: 'left', textAlign: 'left', verticalAlign: 'middle', textVerticalAlign: 'middle'}});
        graphics.push({type: 'text', x: lx + 63.5, y: 684, z: 50,
            style: {text: '2', font: '11px ' + FONT, fill: '#111',
                align: 'left', textAlign: 'left', verticalAlign: 'middle', textVerticalAlign: 'middle'}});
        graphics.push({type: 'text', x: lx + 61, y: 698, z: 50,
            style: {text: nm, font: '11px ' + FONT, fill: '#111',
                align: 'left', textAlign: 'left', verticalAlign: 'middle', textVerticalAlign: 'middle'}});
    });

    // ---- MAE distribution panel ----
    const dIdx = panels.length;
    grids.push({left: 68, top: 31, width: 124, height: 617, show: false, outerBoundsMode: 'none'});
    xAxes.push({gridIndex: dIdx, type: 'value', min: -5, max: 100, show: false, axisLine: {onZero: false}});
    yAxes.push({
        gridIndex: dIdx, type: 'value', inverse: true, min: 0.003, max: 0.479,
        axisLine: {show: true, onZero: false, lineStyle: {color: '#111', width: 1}},
        splitLine: {show: false},
        axisTick: {show: true, customValues: maeTicks, length: 4, lineStyle: {color: '#111'}},
        axisLabel: {customValues: maeTicks, fontSize: 16, color: '#111', margin: 6, fontFamily: FONT},
        name: 'MAE of Permittivity Tensor (Cartesian)', nameLocation: 'middle', nameGap: 42,
        nameTextStyle: {fontSize: 16, color: '#111', fontFamily: FONT}
    });

    function densAt(m) {
        for (let i = 1; i < densMae.length; i++) {
            if (m <= densMae[i]) {
                const t = (m - densMae[i - 1]) / (densMae[i] - densMae[i - 1]);
                return densVal[i - 1] + t * (densVal[i] - densVal[i - 1]);
            }
        }
        return densVal[densVal.length - 1];
    }

    const bandEdges = [densMae[0]].concat(qCuts, [densMae[densMae.length - 1]]);

    series.push({
        type: 'custom', coordinateSystem: 'cartesian2d', xAxisIndex: dIdx, yAxisIndex: dIdx,
        silent: true, z: 1, data: [[0], [1], [2], [3]],
        renderItem: function (params, api) {
            const b = params.dataIndex;
            const lo = bandEdges[b], hi = bandEdges[b + 1];
            const pts = [api.coord([0, lo]), api.coord([densAt(lo), lo])];
            densMae.forEach((m, i) => {
                if (m > lo && m < hi) pts.push(api.coord([densVal[i], m]));
            });
            pts.push(api.coord([densAt(hi), hi]));
            pts.push(api.coord([0, hi]));
            return {type: 'polygon', shape: {points: pts}, style: {fill: qFills[b], stroke: null}};
        }
    });

    series.push({
        type: 'line', xAxisIndex: dIdx, yAxisIndex: dIdx, silent: true, z: 3,
        data: zip(densVal, densMae), symbol: 'none',
        lineStyle: {width: 1.5, color: '#000'},
        markLine: {
            silent: true, symbol: 'none', label: {show: false},
            lineStyle: {type: [4, 3], color: '#cfcfcf', width: 1},
            data: qCuts.map(q => ({yAxis: q}))
        }
    });

    const chart = echarts.init(document.getElementById('chart'), null, {renderer: 'canvas'});
    chart.setOption({
        animation: false,
        backgroundColor: '#fff',
        textStyle: {fontFamily: FONT},
        grid: grids,
        xAxis: xAxes,
        yAxis: yAxes,
        series: series,
        graphic: {elements: graphics}
    });
</script>
</body>
</html>
